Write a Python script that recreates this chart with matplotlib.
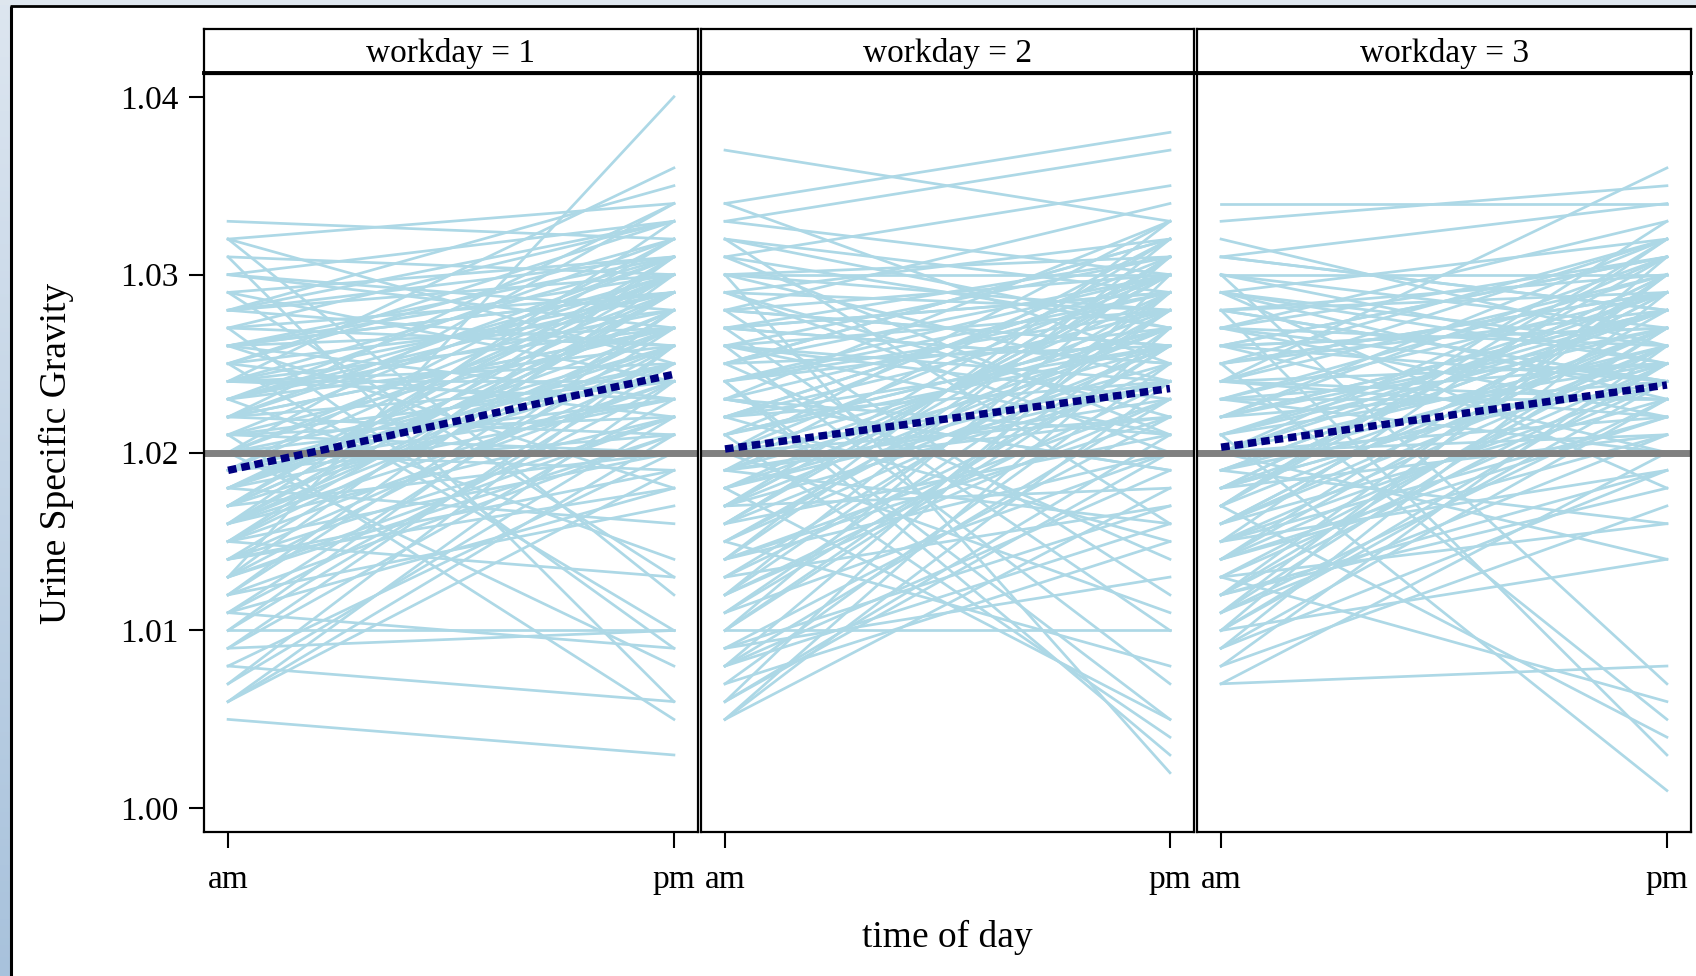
import matplotlib.pyplot as plt
from matplotlib.colors import LinearSegmentedColormap
import numpy as np

plt.rcParams['font.family'] = ['Liberation Serif', 'DejaVu Serif']

# urine specific gravity per worker, morning (am) and afternoon (pm) sample
am_1 = [1.005, 1.006, 1.006, 1.006, 1.007, 1.007, 1.008, 1.008, 1.009, 1.009,
        1.010, 1.010, 1.010, 1.011, 1.011, 1.012, 1.012, 1.013, 1.013, 1.014,
        1.014, 1.015, 1.015, 1.015, 1.016, 1.016, 1.016, 1.017, 1.017, 1.017,
        1.018, 1.018, 1.018, 1.019, 1.019, 1.019, 1.020, 1.020, 1.020, 1.021,
        1.021, 1.021, 1.022, 1.022, 1.022, 1.023, 1.023, 1.023, 1.024, 1.024,
        1.024, 1.025, 1.025, 1.025, 1.026, 1.026, 1.026, 1.027, 1.027, 1.027,
        1.028, 1.028, 1.028, 1.029, 1.029, 1.029, 1.030, 1.030, 1.031, 1.031,
        1.032, 1.032, 1.032, 1.033, 1.012, 1.013, 1.014, 1.016, 1.018, 1.020,
        1.022, 1.024, 1.019, 1.017, 1.015, 1.011, 1.009, 1.021, 1.026, 1.023,
        1.013, 1.015, 1.016, 1.017, 1.018, 1.019, 1.020, 1.021, 1.022, 1.023,
        1.024, 1.025, 1.026, 1.027, 1.028, 1.014, 1.016, 1.018, 1.020, 1.022,
        1.024, 1.026, 1.028, 1.030, 1.015, 1.017, 1.019, 1.021, 1.023, 1.025,
        1.012, 1.014, 1.016, 1.018, 1.020, 1.022, 1.024, 1.026, 1.011, 1.013]
pm_1 = [1.003, 1.021, 1.024, 1.019, 1.022, 1.026, 1.006, 1.020, 1.023, 1.010,
        1.010, 1.025, 1.028, 1.009, 1.027, 1.017, 1.030, 1.040, 1.021, 1.029,
        1.018, 1.031, 1.024, 1.013, 1.026, 1.022, 1.033, 1.028, 1.020, 1.025,
        1.027, 1.030, 1.016, 1.032, 1.023, 1.026, 1.029, 1.019, 1.008, 1.005,
        1.031, 1.027, 1.024, 1.034, 1.021, 1.028, 1.030, 1.014, 1.036, 1.025,
        1.029, 1.032, 1.022, 1.010, 1.027, 1.031, 1.018, 1.033, 1.029, 1.009,
        1.030, 1.026, 1.035, 1.024, 1.031, 1.013, 1.028, 1.033, 1.030, 1.006,
        1.034, 1.025, 1.012, 1.032, 1.028, 1.031, 1.025, 1.029, 1.023, 1.034,
        1.030, 1.027, 1.021, 1.032, 1.027, 1.024, 1.026, 1.020, 1.023, 1.026,
        1.026, 1.029, 1.024, 1.031, 1.028, 1.025, 1.030, 1.022, 1.027, 1.032,
        1.024, 1.028, 1.030, 1.026, 1.031, 1.022, 1.027, 1.029, 1.025, 1.031,
        1.023, 1.029, 1.033, 1.027, 1.020, 1.028, 1.030, 1.024, 1.029, 1.033,
        1.021, 1.019, 1.030, 1.026, 1.023, 1.027, 1.031, 1.029, 1.018, 1.022]

am_2 = [1.005, 1.005, 1.005, 1.006, 1.006, 1.007, 1.007, 1.008, 1.008, 1.009,
        1.009, 1.010, 1.010, 1.010, 1.011, 1.011, 1.012, 1.012, 1.013, 1.013,
        1.014, 1.014, 1.015, 1.015, 1.015, 1.016, 1.016, 1.017, 1.017, 1.017,
        1.018, 1.018, 1.018, 1.019, 1.019, 1.019, 1.020, 1.020, 1.020, 1.021,
        1.021, 1.021, 1.022, 1.022, 1.022, 1.023, 1.023, 1.023, 1.024, 1.024,
        1.024, 1.025, 1.025, 1.025, 1.026, 1.026, 1.026, 1.027, 1.027, 1.027,
        1.028, 1.028, 1.028, 1.029, 1.029, 1.030, 1.030, 1.030, 1.031, 1.031,
        1.032, 1.032, 1.033, 1.033, 1.034, 1.034, 1.037, 1.031, 1.029, 1.027,
        1.026, 1.024, 1.022, 1.020, 1.019, 1.017, 1.016, 1.014, 1.012, 1.008,
        1.006, 1.008, 1.010, 1.012, 1.014, 1.016, 1.018, 1.020, 1.022, 1.024,
        1.026, 1.028, 1.030, 1.013, 1.015, 1.017, 1.019, 1.021, 1.023, 1.025,
        1.027, 1.029, 1.011, 1.009, 1.016, 1.018, 1.020, 1.022, 1.024, 1.026,
        1.028, 1.030, 1.032, 1.014, 1.019, 1.023, 1.027, 1.021, 1.017, 1.025]
pm_2 = [1.024, 1.018, 1.027, 1.021, 1.030, 1.015, 1.025, 1.019, 1.029, 1.022,
        1.013, 1.027, 1.010, 1.031, 1.020, 1.026, 1.024, 1.032, 1.017, 1.028,
        1.023, 1.033, 1.026, 1.008, 1.029, 1.021, 1.031, 1.027, 1.018, 1.030,
        1.025, 1.029, 1.005, 1.032, 1.022, 1.016, 1.027, 1.030, 1.011, 1.026,
        1.031, 1.004, 1.028, 1.024, 1.015, 1.029, 1.033, 1.019, 1.027, 1.003,
        1.030, 1.026, 1.032, 1.014, 1.028, 1.023, 1.007, 1.031, 1.025, 1.029,
        1.026, 1.034, 1.012, 1.028, 1.020, 1.030, 1.024, 1.002, 1.027, 1.035,
        1.029, 1.016, 1.030, 1.037, 1.038, 1.025, 1.033, 1.021, 1.032, 1.010,
        1.031, 1.005, 1.030, 1.022, 1.028, 1.024, 1.026, 1.020, 1.023, 1.016,
        1.020, 1.023, 1.026, 1.029, 1.022, 1.031, 1.027, 1.024, 1.030, 1.028,
        1.021, 1.026, 1.031, 1.025, 1.028, 1.032, 1.023, 1.027, 1.019, 1.030,
        1.025, 1.022, 1.028, 1.017, 1.030, 1.024, 1.033, 1.026, 1.029, 1.024,
        1.030, 1.028, 1.027, 1.031, 1.026, 1.021, 1.029, 1.027, 1.030, 1.032]

am_3 = [1.007, 1.007, 1.008, 1.008, 1.009, 1.009, 1.010, 1.010, 1.010, 1.011,
        1.011, 1.012, 1.012, 1.013, 1.013, 1.014, 1.014, 1.015, 1.015, 1.015,
        1.016, 1.016, 1.017, 1.017, 1.017, 1.018, 1.018, 1.018, 1.019, 1.019,
        1.020, 1.020, 1.020, 1.021, 1.021, 1.022, 1.022, 1.022, 1.023, 1.023,
        1.024, 1.024, 1.024, 1.025, 1.025, 1.026, 1.026, 1.026, 1.027, 1.027,
        1.028, 1.028, 1.029, 1.029, 1.030, 1.030, 1.031, 1.031, 1.032, 1.033,
        1.034, 1.029, 1.027, 1.025, 1.023, 1.021, 1.019, 1.016, 1.013, 1.011,
        1.009, 1.012, 1.014, 1.018, 1.020, 1.022, 1.024, 1.026, 1.028, 1.030,
        1.010, 1.012, 1.014, 1.016, 1.018, 1.020, 1.022, 1.024, 1.026, 1.028,
        1.030, 1.011, 1.013, 1.015, 1.017, 1.019, 1.021, 1.023, 1.025, 1.027,
        1.029, 1.031, 1.015, 1.018, 1.021, 1.024, 1.027, 1.016, 1.020, 1.023,
        1.012, 1.019, 1.025, 1.029, 1.022, 1.017, 1.014, 1.026, 1.028, 1.020]
pm_3 = [1.020, 1.008, 1.026, 1.017, 1.023, 1.029, 1.014, 1.025, 1.031, 1.021,
        1.027, 1.018, 1.030, 1.024, 1.006, 1.028, 1.022, 1.032, 1.026, 1.019,
        1.029, 1.023, 1.027, 1.033, 1.004, 1.025, 1.030, 1.021, 1.028, 1.016,
        1.026, 1.031, 1.022, 1.028, 1.001, 1.024, 1.032, 1.027, 1.029, 1.020,
        1.036, 1.025, 1.030, 1.028, 1.005, 1.031, 1.024, 1.027, 1.033, 1.026,
        1.029, 1.003, 1.032, 1.025, 1.030, 1.007, 1.028, 1.034, 1.026, 1.035,
        1.034, 1.018, 1.022, 1.032, 1.025, 1.029, 1.024, 1.026, 1.016, 1.023,
        1.019, 1.025, 1.030, 1.027, 1.014, 1.028, 1.022, 1.031, 1.024, 1.027,
        1.024, 1.027, 1.021, 1.029, 1.025, 1.028, 1.031, 1.023, 1.027, 1.030,
        1.025, 1.030, 1.026, 1.024, 1.032, 1.028, 1.027, 1.023, 1.029, 1.031,
        1.026, 1.028, 1.022, 1.030, 1.025, 1.032, 1.024, 1.027, 1.021, 1.030,
        1.019, 1.026, 1.029, 1.023, 1.028, 1.031, 1.025, 1.020, 1.024, 1.029]

workdays = [1, 2, 3]
time_labels = ['am', 'pm']
# group mean per workday (dotted line)
mean_am = [1.0190, 1.0202, 1.0203]
mean_pm = [1.0244, 1.0236, 1.0238]
ref_level = 1.02
y_ticks = [1.00, 1.01, 1.02, 1.03, 1.04]

series = [(am_1, pm_1), (am_2, pm_2), (am_3, pm_3)]

W, H = 1696, 976
fig = plt.figure(figsize=(W / 100, H / 100), dpi=100)
fig.patch.set_facecolor('white')


def box(x0, y0, x1, y1):
    # pixel box (origin top-left) -> figure fraction rect
    return [x0 / W, 1 - y1 / H, (x1 - x0) / W, (y1 - y0) / H]


# window edge: shaded strip on the left and top, black frame line
bg = fig.add_axes([0, 0, 1, 1], zorder=-5)
grad = np.linspace(0, 1, 256).reshape(-1, 1)
edge_cmap = LinearSegmentedColormap.from_list('edge', ['#dde6f0', '#a8c2dc'])
bg.imshow(grad, cmap=edge_cmap, extent=(0, 10, H, 0), aspect='auto')
bg.fill_between([0, W], 0, 5, color='#dee6ee', lw=0)
bg.plot([11, 11], [6, H], color='black', lw=2.2, solid_capstyle='butt')
bg.plot([10, W], [6, 6], color='black', lw=2.0, solid_capstyle='butt')
bg.set_xlim(0, W)
bg.set_ylim(H, 0)
bg.axis('off')

panel_x = [(204, 698), (701, 1194), (1197, 1691)]

for i, (x0, x1) in enumerate(panel_x):
    ax = fig.add_axes(box(x0, 74, x1, 832))
    am, pm = series[i]
    for a, p in zip(am, pm):
        ax.plot([0, 1], [a, p], color='#add8e6', lw=1.95, zorder=1)
    ax.axhline(ref_level, color='#808080', lw=5.0, zorder=2)
    ax.plot([0, 1], [mean_am[i], mean_pm[i]], color='#000080', lw=5.4,
            dashes=(1.15, 0.65), dash_capstyle='butt', zorder=3)

    ax.set_xlim(-0.054, 1.054)
    ax.set_ylim(0.99867, 1.04128)
    ax.set_xticks([0, 1])
    ax.set_xticklabels(time_labels)
    ax.set_yticks(y_ticks)
    ax.set_yticklabels(['%.2f' % v for v in y_ticks])
    ax.tick_params(axis='x', direction='out', length=11.5, width=1.5,
                   pad=12, labelsize=24)
    ax.tick_params(axis='y', direction='out', length=10.5, width=1.5,
                   pad=8, labelsize=24)
    if i > 0:
        ax.tick_params(axis='y', left=False, labelleft=False)
    for s in ax.spines.values():
        s.set_linewidth(1.6)

    # strip header
    st = fig.add_axes(box(x0, 29, x1, 73))
    st.set_xticks([])
    st.set_yticks([])
    for s in st.spines.values():
        s.set_linewidth(1.6)
    st.spines['bottom'].set_linewidth(2.8)
    st.text(0.5, 0.45, 'workday = %d' % workdays[i], ha='center', va='center',
            fontsize=24, transform=st.transAxes)

fig.text(947 / W, 1 - 937 / H, 'time of day', ha='center', va='center', fontsize=27)
fig.text(56 / W, 1 - 453 / H, 'Urine Specific Gravity', ha='center', va='center',
         rotation=90, fontsize=27)

fig.savefig('out.png', dpi=100)
